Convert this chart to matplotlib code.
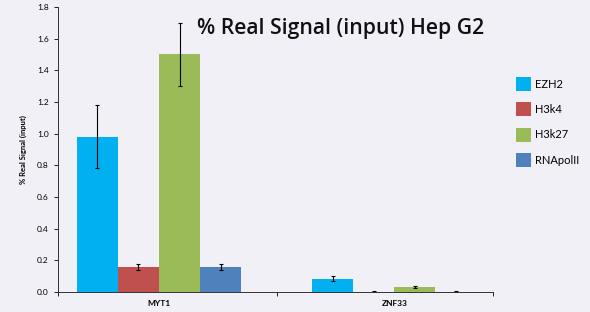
import matplotlib.pyplot as plt
import numpy as np

# Data
genes = ["MYT1", "ZNF33"]
series = ["EZH2", "H3k4", "H3k27", "RNApolII"]
ezh2 = [0.98, 0.085]
h3k4 = [0.16, 0.003]
h3k27 = [1.50, 0.03]
rnapol = [0.16, 0.003]
ezh2_err = [0.20, 0.015]
h3k4_err = [0.02, 0.002]
h3k27_err = [0.20, 0.006]
rnapol_err = [0.02, 0.002]

values = [ezh2, h3k4, h3k27, rnapol]
errors = [ezh2_err, h3k4_err, h3k27_err, rnapol_err]
colors = ["#00B0F0", "#C0504D", "#9BBB59", "#4F81BD"]
bg = "#F2F0F7"

plt.rcParams['font.family'] = ['Lato', 'DejaVu Sans']

fig = plt.figure(figsize=(5.9, 3.12), dpi=100, facecolor=bg)
ax = fig.add_axes([0.098, 0.064, 0.738, 0.914], facecolor=bg)

x = np.arange(len(genes))
w = 0.1745
for i in range(len(series)):
    ax.bar(x + (i - 1.5) * w, values[i], w, color=colors[i], label=series[i],
           yerr=errors[i], error_kw=dict(ecolor="black", elinewidth=0.8, capsize=1.5, capthick=0.8))

ax.set_xlim(-0.43, 1.42)
ax.set_ylim(0, 1.8)
ax.set_yticks(np.arange(0, 1.81, 0.2))
ax.set_yticklabels([f"{v:.1f}" for v in np.arange(0, 1.81, 0.2)], fontsize=6)
ax.set_xticks(x)
ax.set_xticklabels(genes, fontsize=6, fontweight="bold")
ax.tick_params(axis="x", length=0, pad=6)
ax.tick_params(axis="y", length=3, width=0.6, direction="out")
ax.set_xticks([-0.43, 0.5, 1.42], minor=True)
ax.tick_params(axis="x", which="minor", length=3, width=0.6)
for s in ["top", "right"]:
    ax.spines[s].set_visible(False)
for s in ["left", "bottom"]:
    ax.spines[s].set_linewidth(0.7)
    ax.spines[s].set_color("#333333")

ax.set_ylabel("% Real Signal (input)", fontsize=5.5, fontweight="bold", labelpad=7)

fig.text(0.577, 0.91, "% Real Signal (input) Hep G2", fontsize=15.2, fontweight="semibold",
         family=["Open Sans", "DejaVu Sans"], ha="center", va="center", color="#111111")

ax.legend(loc="upper left", bbox_to_anchor=(1.03, 0.79), frameon=False, fontsize=8,
          handlelength=1.3, handleheight=1.6, labelspacing=1.0, handletextpad=0.35)

plt.savefig("out.png", dpi=100, facecolor=bg)
